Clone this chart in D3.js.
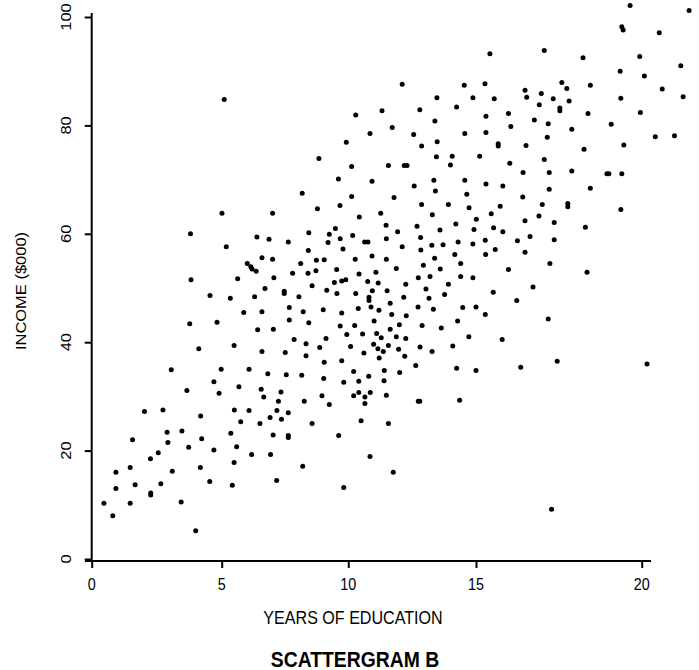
<!DOCTYPE html>
<html><head><meta charset="utf-8">
<script src="https://cdn.jsdelivr.net/npm/d3@7"></script>
<style>body{margin:0;background:#fff} svg{display:block}</style>
</head><body><svg id="c" width="699" height="670"></svg>
<script>
const xTicks = [0, 5, 10, 15, 20];
const yTicks = [0, 20, 40, 60, 80, 100];
const xTitle = "YEARS OF EDUCATION";
const yTitle = "INCOME ($000)";
const chartTitle = "SCATTERGRAM B";

// upper band
const yearsTop = [5.10,
  12.11,14.54,15.27,13.47,14.88,12.80,14.24,10.29,11.32,13.39,
  15.30,11.72,10.85,12.56,14.56,15.30,9.92,12.87,13.48,8.84,
  13.45,14.07,15.11,10.13,11.57,12.19,12.30,14.00,9.61,10.93,
  12.58,13.35,14.56,15.30];
const incomeTop = [84.8,
  87.6,87.4,87.7,85.1,85.1,82.9,83.4,81.9,82.7,80.8,
  81.7,79.6,78.5,78.3,78.5,78.7,76.9,76.2,77.0,73.9,
  74.2,74.3,74.3,72.4,72.6,72.6,72.6,72.7,70.1,69.7,
  68.8,69.9,69.9,69.2];

// upper right
const yearsTopRight = [
  19.65,21.43,19.40,19.44,20.53,15.42,17.06,18.23,19.94,21.18,
  19.35,20.08,17.59,17.74,18.45,16.48,15.55,16.53,16.97,17.33,
  17.81,16.91,17.53,17.53,19.37,20.62,21.25,15.98,18.38,19.96,
  16.76,17.18,16.05,17.89,19.08,17.15,20.41,20.99,15.67,15.67,
  16.51,18.26,19.46,16.02,17.06,16.42,17.21,17.89,18.95,19.01,
  19.40,15.81];
const incomeTopRight = [
  102.1,101.2,98.2,97.6,97.1,93.2,93.8,92.5,92.7,91.0,
  90.0,89.1,87.9,86.8,87.4,86.5,84.9,85.2,85.9,84.9,
  84.5,83.8,83.2,82.7,85.0,86.7,85.3,82.2,82.2,82.4,
  81.0,80.3,79.8,79.3,80.2,77.8,77.9,78.1,76.6,76.2,
  76.3,75.6,76.4,73.0,73.7,71.3,71.3,71.6,71.1,71.1,
  71.1,68.8];

// middle left
const yearsMidLeft = [
  5.01,7.01,3.80,6.39,6.87,5.18,6.59,7.01,6.01,6.15,
  6.20,6.36,3.82,5.63,7.06,4.55,5.34,6.30,6.71,7.47,
  7.47,5.87,6.59,3.77,4.82,6.42,7.04,4.12,5.49,6.59,
  7.51,3.06,4.98,6.08];
const incomeMidLeft = [
  63.8,63.8,60.0,59.4,59.0,57.6,55.6,55.3,54.5,53.9,
  53.5,53.1,51.5,51.7,51.9,48.6,48.1,48.4,49.9,49.4,
  49.0,45.5,45.6,43.4,43.7,42.3,42.4,38.8,39.4,38.3,
  38.1,34.9,35.0,35.0];

// centre, upper half
const yearsMidA = [
  13.41,14.64,8.18,10.13,11.79,12.87,13.92,14.73,8.78,9.67,
  13.29,10.43,11.27,15.01,11.48,11.93,12.69,13.59,14.21,14.92,
  8.44,9.25,9.49,7.63,9.20,9.68,10.17,10.64,10.77,11.49,
  12.11,12.83,12.84,13.27,13.71,14.30,14.88,15.28,15.29,9.79,
  8.42,10.93,10.27,11.49,13.38,14.17,8.12,8.74,9.05,12.94,
  13.60,14.40,7.80,8.41,8.72,9.54,10.42,11.08,11.88,12.74,
  13.20,14.40,14.88];
const incomeMidA = [
  67.9,67.3,67.5,66.9,66.7,65.4,65.4,64.8,64.6,65.2,
  63.5,63.1,63.8,62.7,61.6,60.4,61.4,60.7,61.8,60.8,
  60.2,59.9,61.0,58.5,58.4,59.1,59.7,58.5,58.5,59.1,
  57.6,59.3,57.0,57.9,58.0,58.5,58.1,58.8,56.2,57.2,
  56.9,55.9,55.3,55.3,55.5,56.2,54.5,55.1,55.2,54.2,
  53.5,54.5,52.7,52.7,53.2,53.4,52.6,52.9,53.6,51.9,
  52.1,52.1,51.9];

// centre, lower half
const yearsMidB = [
  9.45,9.74,9.90,10.76,11.17,8.57,12.25,13.92,9.15,9.55,
  10.29,10.94,11.52,13.04,13.77,8.05,10.81,10.81,12.17,13.16,
  11.64,7.67,8.22,9.01,9.74,10.39,10.89,11.20,11.70,12.27,
  12.73,13.33,14.48,15.00,15.28,7.67,8.44,9.68,10.25,11.01,
  11.64,12.00,12.89,13.64,14.28,7.86,9.12,9.94,10.56,11.11,
  11.29,11.88,12.25,14.72,8.33,8.87,10.09,10.99,11.16,11.37,
  11.57,11.97,12.81,13.28,14.09,8.33,9.05,9.74,10.61,11.21,
  12.21,12.64,14.24,15.00,10.21,11.41];
const incomeMidB = [
  51.0,51.3,51.5,51.2,50.9,50.4,50.7,50.7,49.6,49.0,
  49.0,49.5,49.5,49.8,48.8,48.4,48.3,47.7,48.3,48.1,
  47.2,46.4,45.6,46.0,45.4,46.2,46.5,45.9,45.1,44.9,
  46.5,46.1,46.4,46.5,45.1,44.1,43.6,43.0,43.1,43.9,
  42.4,43.2,43.1,42.6,43.9,40.5,40.7,41.4,41.5,41.6,
  40.8,41.0,40.7,41.0,39.7,39.0,39.2,39.6,38.8,38.3,
  39.4,38.7,39.1,38.3,39.3,37.5,36.3,36.6,38.0,37.1,
  37.4,35.7,35.2,34.8,34.6,34.8];

// middle right
const yearsMidRight = [
  17.21,18.45,16.41,17.00,17.77,17.77,19.37,15.73,15.46,16.90,
  16.48,17.36,15.53,15.81,18.30,16.25,16.63,17.36,15.58,16.48,
  17.23,15.98,18.35,16.72,15.52,16.23,17.18,15.79,17.45,16.35,
  20.16];
const incomeMidRight = [
  68.2,68.4,66.8,65.4,65.6,65.0,64.5,65.1,63.7,63.3,
  62.4,62.1,61.1,60.4,61.2,58.7,59.5,58.9,57.1,56.6,
  54.5,53.4,52.9,50.2,49.2,47.7,44.3,40.5,36.5,35.4,
  36.0];

// lower left
const yearsLowLeft = [
  6.82,7.55,4.70,3.66,4.90,5.68,6.56,6.66,7.34,7.24,
  2.03,2.74,4.19,5.50,6.08,7.18,5.75,6.51,6.91,7.36,
  1.57,2.90,2.93,3.47,4.23,5.36,5.59,7.03,3.73,4.70,
  2.56,2.26,6.18,6.93,5.49,1.48,0.93,3.10,4.18,1.67,
  0.93,2.66,2.27,2.27,4.54,5.42,7.17,0.47,1.48,3.44,
  0.81,4.00];
const incomeLowLeft = [
  34.2,34.0,32.7,31.1,30.6,31.8,31.3,29.9,30.8,29.1,
  27.2,27.5,26.4,27.5,27.4,27.4,25.3,25.0,26.1,25.8,
  22.0,23.4,21.5,23.6,22.2,23.2,20.7,22.9,20.6,20.1,
  19.6,18.5,19.3,19.3,17.8,16.9,16.0,16.2,16.9,13.7,
  13.0,13.9,12.2,11.8,14.3,13.6,14.5,10.3,10.3,10.5,
  8.0,5.2];

// lower centre / right
const yearsLow = [
  8.16,12.01,9.03,9.82,10.41,10.80,11.40,8.96,10.21,10.41,
  10.65,10.86,11.49,10.65,8.26,9.25,12.74,12.80,14.36,7.63,
  8.57,10.50,11.57,7.63,7.63,9.62,10.85,8.20,11.76,9.82,
  17.28];
const incomeLow = [
  33.9,34.4,33.3,32.6,32.8,33.7,32.9,30.1,30.1,30.7,
  29.9,30.7,30.2,28.7,29.1,28.5,29.1,29.1,29.3,27.0,
  25.0,25.5,25.0,22.8,22.4,22.8,18.9,17.1,16.0,13.2,
  9.2];

const years = [].concat(yearsTop, yearsTopRight, yearsMidLeft, yearsMidA, yearsMidB, yearsMidRight, yearsLowLeft, yearsLow);
const income = [].concat(incomeTop, incomeTopRight, incomeMidLeft, incomeMidA, incomeMidB, incomeMidRight, incomeLowLeft, incomeLow);
const points = years.map((v, i) => ({x: v, y: income[i]}));

const svg = d3.select("#c");
const font = "'Liberation Sans', Arial, sans-serif";
const sx = 0.87;

// the printed axis is not evenly spaced between 15 and 20
const x = d3.scaleLinear().domain(xTicks).range([91.7, 221.7, 348.3, 476, 641.7]);
const y = d3.scaleLinear().domain([0, 100]).range([559, 17]);

// axis lines
svg.append("line").attr("x1", 85).attr("x2", 651).attr("y1", 561).attr("y2", 561)
  .attr("stroke", "#000").attr("stroke-width", 2);
svg.append("line").attr("x1", x(0)).attr("x2", x(0)).attr("y1", 13).attr("y2", 561)
  .attr("stroke", "#000").attr("stroke-width", 2);

const gx = svg.append("g").attr("transform", "translate(0,561)")
  .call(d3.axisBottom(x).tickValues(xTicks).tickSize(7).tickSizeOuter(0).tickFormat(""));
gx.select(".domain").remove();
gx.selectAll(".tick line").attr("stroke", "#000").attr("stroke-width", 2);

const gy = svg.append("g").attr("transform", `translate(${x(0)},0)`)
  .call(d3.axisLeft(y).tickValues(yTicks).tickSize(7).tickSizeOuter(0).tickFormat(""));
gy.select(".domain").remove();
gy.selectAll(".tick line").attr("stroke", "#000").attr("stroke-width", 2);

// tick labels
svg.append("g").selectAll("text").data(xTicks).join("text")
  .attr("transform", d => `translate(${x(d)},590) scale(${sx},1)`)
  .attr("text-anchor", "middle").attr("font-family", font).attr("font-size", 16.5)
  .attr("fill", "#000").text(d => d);

svg.append("g").selectAll("text").data(yTicks).join("text")
  .attr("transform", d => `translate(71,${y(d)}) scale(${sx},1) rotate(-90)`)
  .attr("text-anchor", "middle").attr("font-family", font).attr("font-size", 16.5)
  .attr("fill", "#000").text(d => d);

// titles
svg.append("text").attr("transform", `translate(353,624) scale(${sx},1)`)
  .attr("text-anchor", "middle").attr("font-family", font).attr("font-size", 18.5)
  .attr("fill", "#000").text(xTitle);

svg.append("text").attr("transform", `translate(355,667) scale(0.88,1)`)
  .attr("text-anchor", "middle").attr("font-family", font).attr("font-size", 22)
  .attr("font-weight", "bold").attr("fill", "#000").text(chartTitle);

svg.append("text").attr("transform", `translate(26,291) scale(${sx},1) rotate(-90)`)
  .attr("text-anchor", "middle").attr("font-family", font).attr("font-size", 16.5)
  .attr("fill", "#000").text(yTitle);

// points
svg.append("g").selectAll("circle").data(points).join("circle")
  .attr("cx", d => x(d.x)).attr("cy", d => y(d.y)).attr("r", 2.5).attr("fill", "#000");
</script></body></html>
